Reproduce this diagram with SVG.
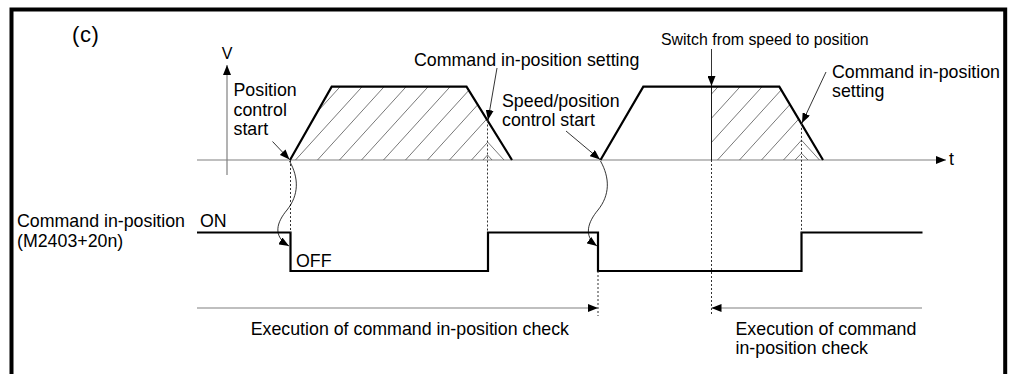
<svg xmlns="http://www.w3.org/2000/svg" width="1009" height="374" viewBox="0 0 1009 374">
<defs>
<marker id="ah" viewBox="0 0 10 8" refX="10" refY="4" markerWidth="10" markerHeight="8" markerUnits="userSpaceOnUse" orient="auto"><path d="M0,0L10,4L0,8z" fill="#000"/></marker>
<clipPath id="c1"><polygon points="290,160 331.7,86.7 466.5,86.7 487.5,120.5 487.5,160"/></clipPath>
<clipPath id="c2"><polygon points="711.5,86.7 779.3,86.7 801.5,123.9 801.5,160 711.5,160"/></clipPath>
</defs>
<style>
text{font-family:"Liberation Sans",Arial,sans-serif;font-size:17.8px;fill:#000}
.axis{stroke:#808080;stroke-width:1.2;fill:none}
.thick{stroke:#000;stroke-width:2.2;fill:none}
.hatch{stroke:#555;stroke-width:0.8;fill:none}
.dot{stroke:#333;stroke-width:1;stroke-dasharray:2,2;fill:none}
.ptr{stroke:#000;stroke-width:0.8;fill:none}
</style>
<g id="frame"><path d="M11.5,374V9.5H1005.2V374" fill="none" stroke="#000" stroke-width="4"/></g>
<g id="title"><text x="72" y="42" style="font-size:22px;letter-spacing:0.6px">(c)</text></g>
<g id="axes">
<path class="axis" d="M197,160H946" marker-end="url(#ah)"/>
<path class="axis" d="M227,175V65" marker-end="url(#ah)"/>
<text x="227" y="59" text-anchor="middle" style="font-size:16px">V</text>
<text x="949" y="164.5">t</text>
</g>
<g id="profile1">
<g clip-path="url(#c1)" class="hatch"><path d="M273.5,160L353.5,72M295.5,160L375.5,72M317.5,160L397.5,72M339.5,160L419.5,72M361.5,160L441.5,72M383.5,160L463.5,72M405.5,160L485.5,72M427.5,160L507.5,72M449.5,160L529.5,72M471.5,160L551.5,72"/></g>
<path class="hatch" d="M487.5,141.9L504,160M483,160L487.5,155L492,160"/>
<path class="thick" d="M290,160L331.7,86.7H466.5L512,160"/>
</g>
<g id="profile2">
<g clip-path="url(#c2)" class="hatch"><path d="M651.5,160L731.5,72M673.5,160L753.5,72M695.5,160L775.5,72M717.5,160L797.5,72M739.5,160L819.5,72M761.5,160L841.5,72M783.5,160L863.5,72"/></g>
<path class="hatch" d="M801.5,140.2L819.5,160M795,160L801.5,153.3L808,160"/>
<path d="M711.5,86.7V160" stroke="#000" stroke-width="0.9"/>
<path class="thick" d="M600.5,160L643.3,86.7H779.3L823,160"/>
</g>
<g id="signal">
<path class="thick" d="M197,232.5H290.5V271H488V232.5H598V271H801.5V232.5H922.5"/>
<text x="17" y="227.3">Command in-position</text>
<text x="17" y="246.7">(M2403+20n)</text>
<text x="200" y="226.7">ON</text>
<text x="296" y="266.7">OFF</text>
</g>
<g id="labels">
<text x="233.5" y="96">Position</text>
<text x="233.5" y="115.5">control</text>
<text x="233.5" y="135">start</text>
<text x="414" y="65.5">Command in-position setting</text>
<text x="502" y="107">Speed/position</text>
<text x="502" y="126">control start</text>
<text x="661" y="45" style="font-size:15.9px">Switch from speed to position</text>
<text x="832" y="78">Command in-position</text>
<text x="832" y="96.5">setting</text>
<text x="250.7" y="334.5">Execution of command in-position check</text>
<text x="735.5" y="334.5">Execution of command</text>
<text x="735.5" y="354">in-position check</text>
</g>
<g id="connectors">
<path class="dot" d="M290.5,160V232.5M487.5,120.5V232.5M598,271V316M711.5,160V316M801.5,123.9V232.5"/>
<path class="axis" d="M197,308H598" marker-end="url(#ah)"/>
<path class="axis" d="M922,308H711.5" marker-end="url(#ah)"/>
<path class="ptr" d="M272.5,141.5L289.5,159.5" marker-end="url(#ah)"/>
<path class="ptr" d="M497,68L488,120" marker-end="url(#ah)"/>
<path class="ptr" d="M566,131L600,159.5" marker-end="url(#ah)"/>
<path class="ptr" d="M711.5,49V86" marker-end="url(#ah)"/>
<path class="ptr" d="M826,72L802,123" marker-end="url(#ah)"/>
<path class="ptr" d="M289.5,161C299,178 299,195 287,210C277,222 272,236 289,246" marker-end="url(#ah)"/>
<path class="ptr" d="M600.5,161C610,178 610,195 598,210C588,222 583,236 597,246" marker-end="url(#ah)"/>
</g>
</svg>
